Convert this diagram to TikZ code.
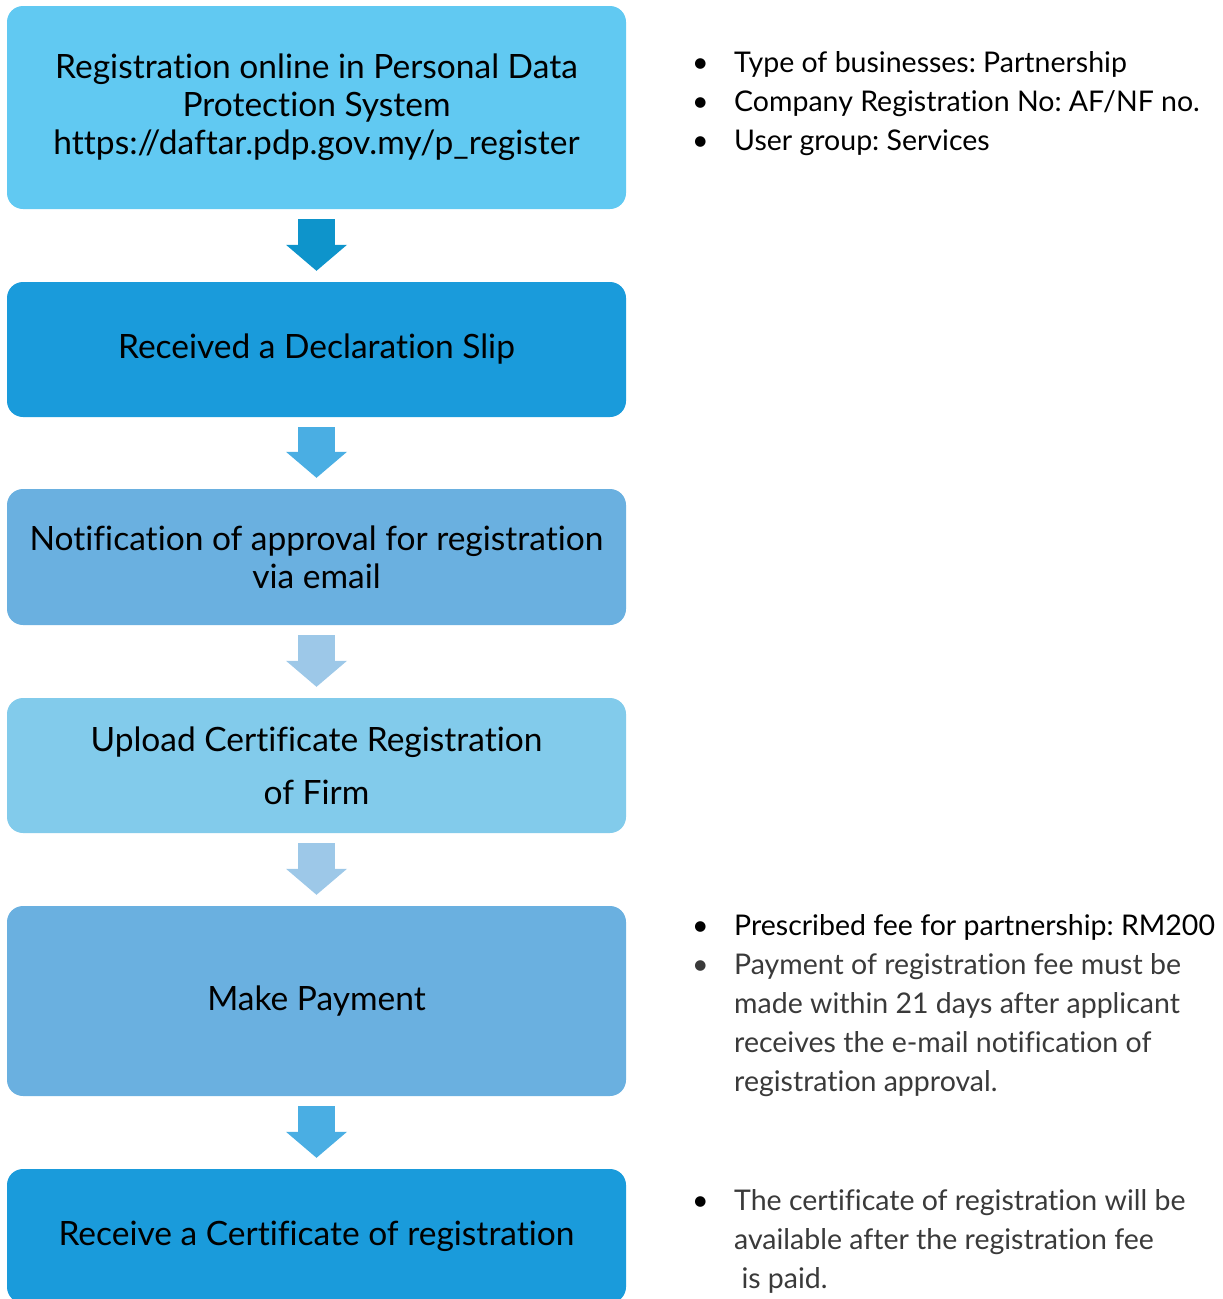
\documentclass[tikz,border=0pt]{standalone}
\usepackage{fontspec}
\setmainfont{Lato}[Ligatures={NoCommon}]
\usetikzlibrary{arrows.meta}

\definecolor{boxcyan}{HTML}{61C9F2}
\definecolor{boxblue}{HTML}{1A9BDB}
\definecolor{boxmid}{HTML}{6AB0E0}
\definecolor{boxpale}{HTML}{82CBEB}
\definecolor{arrdark}{HTML}{0E94CB}
\definecolor{arrmid}{HTML}{4AAEE3}
\definecolor{arrpale}{HTML}{9DC8E8}
\definecolor{notegrey}{HTML}{3A3A3A}

\tikzset{
  stepbox/.style={rounded corners=16pt, minimum width=619pt, inner sep=0pt,
    align=center, font=\fontsize{33.5}{38}\selectfont},
  flowarrow/.style={line width=37pt,
    -{Triangle[width=61pt,length=26pt,line width=0pt]},
    shorten <=10pt, shorten >=11pt},
  note/.style={anchor=base west, inner sep=0pt, align=left,
    font=\fontsize{28.5}{39}\selectfont}
}

\begin{document}
\frenchspacing
\begin{tikzpicture}[x=1pt,y=-1pt]
  \useasboundingbox (0,0) rectangle (1223,1299);
  % step boxes
  \node [stepbox, fill=boxcyan, minimum height=203pt] (reg) at (316.5,107.5)
    {Registration online in Personal Data\\Protection System\\https://daftar.pdp.gov.my/p\_register};
  \node [stepbox, fill=boxblue, minimum height=135pt] (slip) at (316.5,349.5)
    {Received a Declaration Slip};
  \node [stepbox, fill=boxmid, minimum height=136pt] (approval) at (316.5,557)
    {Notification of approval for registration\\via email};
  \node [stepbox, fill=boxpale, minimum height=135pt] (upload) at (316.5,765.5)
    {Upload Certificate Registration\\[15pt]of Firm};
  \node [stepbox, fill=boxmid, minimum height=190pt] (payment) at (316.5,1001)
    {Make Payment};
  \node [stepbox, fill=boxblue, minimum height=134pt] (cert) at (316.5,1236)
    {Receive a Certificate of registration};
  % arrows between steps
  \draw [flowarrow, arrdark] (reg.south) -- (slip.north);
  \draw [flowarrow, arrmid] (slip.south) -- (approval.north);
  \draw [flowarrow, arrpale] (approval.south) -- (upload.north);
  \draw [flowarrow, arrpale] (upload.south) -- (payment.north);
  \draw [flowarrow, arrmid] (payment.south) -- (cert.north);
  % notes on the right
  \node [note] (regnote) at (692,72) {\begin{tabular}[t]{@{}p{42pt}@{}l@{}}
    \textbullet & Type of businesses: Partnership\\
    \textbullet & Company Registration No: AF/NF no.\\
    \textbullet & User group: Services
  \end{tabular}};
  \node [note] (paynote) at (692,935) {\begin{tabular}[t]{@{}p{42pt}@{}l@{}}
    \textbullet & Prescribed fee for partnership: RM200\\
    \textcolor{notegrey}{\textbullet} & \color{notegrey}Payment of registration fee must be\\
    & \color{notegrey}made within 21 days after applicant\\
    & \color{notegrey}receives the e-mail notification of\\
    & \color{notegrey}registration approval.
  \end{tabular}};
  \node [note] (certnote) at (692,1210) {\begin{tabular}[t]{@{}p{42pt}@{}l@{}}
    \textbullet & \color{notegrey}The certificate of registration will be\\
    & \color{notegrey}available after the registration fee\\
    & \color{notegrey}\ is paid.
  \end{tabular}};
\end{tikzpicture}
\end{document}
